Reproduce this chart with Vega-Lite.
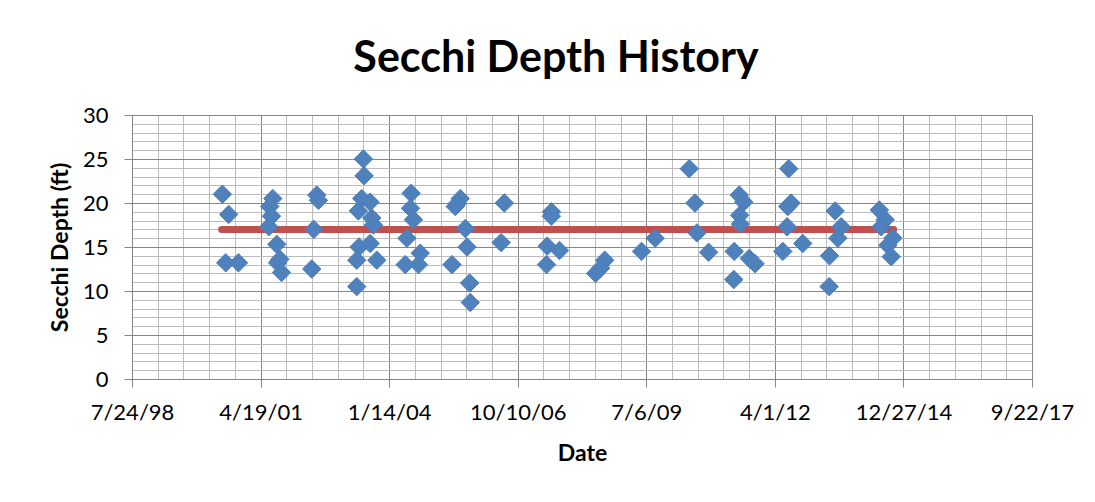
{
  "$schema": "https://vega.github.io/schema/vega-lite/v6.json",
  "width": 900,
  "height": 264,
  "autosize": {"type": "none"},
  "padding": {"left": 132, "top": 115, "right": 63, "bottom": 123},
  "background": "white",
  "config": {"view": {"stroke": null}, "font": "Lato"},
  "title": {
    "text": "Secchi Depth History",
    "font": "Lato",
    "fontSize": 43,
    "fontWeight": "bold",
    "color": "#000000",
    "anchor": "middle",
    "frame": "group",
    "dx": -26,
    "offset": 23
  },
  "datasets": {
    "samples": [
      {"date": "2000-06-26", "depth": 21.0},
      {"date": "2000-08-14", "depth": 18.7},
      {"date": "2000-07-22", "depth": 13.2},
      {"date": "2000-10-29", "depth": 13.2},
      {"date": "2001-07-23", "depth": 20.5},
      {"date": "2001-06-30", "depth": 19.6},
      {"date": "2001-07-13", "depth": 18.5},
      {"date": "2001-06-22", "depth": 17.3},
      {"date": "2001-08-23", "depth": 15.3},
      {"date": "2001-08-29", "depth": 13.2},
      {"date": "2001-09-16", "depth": 13.6},
      {"date": "2001-09-29", "depth": 12.1},
      {"date": "2002-06-30", "depth": 20.9},
      {"date": "2002-07-13", "depth": 20.3},
      {"date": "2002-06-07", "depth": 17.0},
      {"date": "2002-05-22", "depth": 12.5},
      {"date": "2003-06-28", "depth": 25.0},
      {"date": "2003-07-03", "depth": 23.1},
      {"date": "2003-06-15", "depth": 20.5},
      {"date": "2003-08-19", "depth": 20.1},
      {"date": "2003-05-20", "depth": 19.1},
      {"date": "2003-09-01", "depth": 18.3},
      {"date": "2003-09-14", "depth": 17.5},
      {"date": "2003-05-25", "depth": 15.0},
      {"date": "2003-08-19", "depth": 15.4},
      {"date": "2003-05-07", "depth": 13.5},
      {"date": "2003-10-10", "depth": 13.5},
      {"date": "2003-05-07", "depth": 10.5},
      {"date": "2004-07-03", "depth": 21.1},
      {"date": "2004-06-28", "depth": 19.4},
      {"date": "2004-07-21", "depth": 18.1},
      {"date": "2004-05-31", "depth": 16.0},
      {"date": "2004-09-12", "depth": 14.3},
      {"date": "2004-08-29", "depth": 13.0},
      {"date": "2004-05-18", "depth": 13.0},
      {"date": "2005-07-20", "depth": 20.5},
      {"date": "2005-06-11", "depth": 19.6},
      {"date": "2005-06-25", "depth": 19.9},
      {"date": "2005-08-28", "depth": 17.1},
      {"date": "2005-09-11", "depth": 15.0},
      {"date": "2005-05-17", "depth": 13.0},
      {"date": "2005-10-01", "depth": 10.9},
      {"date": "2005-10-06", "depth": 8.7},
      {"date": "2006-06-28", "depth": 20.0},
      {"date": "2006-06-03", "depth": 15.5},
      {"date": "2007-06-30", "depth": 19.0},
      {"date": "2007-06-28", "depth": 18.5},
      {"date": "2007-05-27", "depth": 15.1},
      {"date": "2007-08-31", "depth": 14.6},
      {"date": "2007-05-22", "depth": 13.0},
      {"date": "2008-08-17", "depth": 13.5},
      {"date": "2008-06-07", "depth": 12.0},
      {"date": "2008-07-16", "depth": 12.6},
      {"date": "2009-05-30", "depth": 14.5},
      {"date": "2009-09-13", "depth": 16.0},
      {"date": "2010-06-05", "depth": 23.9},
      {"date": "2010-07-19", "depth": 20.0},
      {"date": "2010-08-04", "depth": 16.6},
      {"date": "2010-11-03", "depth": 14.4},
      {"date": "2011-06-29", "depth": 20.9},
      {"date": "2011-08-03", "depth": 20.1},
      {"date": "2011-07-02", "depth": 18.6},
      {"date": "2011-07-07", "depth": 17.6},
      {"date": "2011-05-21", "depth": 14.5},
      {"date": "2011-09-15", "depth": 13.7},
      {"date": "2011-10-30", "depth": 13.1},
      {"date": "2011-05-18", "depth": 11.3},
      {"date": "2012-07-18", "depth": 23.9},
      {"date": "2012-08-05", "depth": 20.0},
      {"date": "2012-07-11", "depth": 19.6},
      {"date": "2012-07-05", "depth": 17.3},
      {"date": "2012-11-04", "depth": 15.4},
      {"date": "2012-06-02", "depth": 14.5},
      {"date": "2013-07-14", "depth": 19.1},
      {"date": "2013-08-30", "depth": 17.3},
      {"date": "2013-08-04", "depth": 16.0},
      {"date": "2013-05-31", "depth": 14.0},
      {"date": "2013-05-28", "depth": 10.5},
      {"date": "2014-06-23", "depth": 19.2},
      {"date": "2014-08-07", "depth": 18.1},
      {"date": "2014-07-07", "depth": 17.3},
      {"date": "2014-10-06", "depth": 16.0},
      {"date": "2014-08-28", "depth": 15.2},
      {"date": "2014-09-23", "depth": 13.9}
    ],
    "mean": [
      {"date": "2000-06-20", "depth": 17.0},
      {"date": "2014-10-12", "depth": 17.0}
    ]
  },
  "resolve": {"axis": {"x": "independent", "y": "independent"}},
  "layer": [
    {
      "data": {"name": "samples"},
      "mark": {"type": "point", "opacity": 0},
      "encoding": {
        "x": {
          "field": "date", "type": "temporal",
          "scale": {"type": "utc", "domain": [901238400000, 1506038400000], "nice": false},
          "axis": {
            "orient": "top", "grid": true, "gridColor": "#BCBCBC", "gridWidth": 1,
            "domain": false, "ticks": false, "labels": false, "title": null,
            "values": [901238400000, 918518400000, 935798400000, 953078400000, 970358400000, 987638400000, 1004918400000, 1022198400000, 1039478400000, 1056758400000, 1074038400000, 1091318400000, 1108598400000, 1125878400000, 1143158400000, 1160438400000, 1177718400000, 1194998400000, 1212278400000, 1229558400000, 1246838400000, 1264118400000, 1281398400000, 1298678400000, 1315958400000, 1333238400000, 1350518400000, 1367798400000, 1385078400000, 1402358400000, 1419638400000, 1436918400000, 1454198400000, 1471478400000, 1488758400000, 1506038400000]
          }
        },
        "y": {
          "field": "depth", "type": "quantitative",
          "scale": {"domain": [0, 30], "nice": false, "zero": true},
          "axis": {
            "orient": "right", "grid": true, "gridColor": "#BCBCBC", "gridWidth": 1,
            "domain": false, "ticks": false, "labels": false, "title": null,
            "values": [0,1,2,3,4,5,6,7,8,9,10,11,12,13,14,15,16,17,18,19,20,21,22,23,24,25,26,27,28,29,30]
          }
        }
      }
    },
    {
      "data": {"name": "mean"},
      "mark": {"type": "line", "color": "#C0504D", "strokeWidth": 7, "strokeCap": "round"},
      "encoding": {
        "x": {"field": "date", "type": "temporal", "axis": null},
        "y": {"field": "depth", "type": "quantitative", "axis": null}
      }
    },
    {
      "data": {"name": "samples"},
      "mark": {"type": "point", "shape": "diamond", "filled": true, "size": 340, "fill": "#4F81BD", "stroke": "#4A7EBB", "strokeWidth": 1, "opacity": 1},
      "encoding": {
        "x": {
          "field": "date", "type": "temporal",
          "axis": {
            "orient": "bottom", "title": "Date",
            "values": [901238400000, 987638400000, 1074038400000, 1160438400000, 1246838400000, 1333238400000, 1419638400000, 1506038400000],
            "labelExpr": "utcFormat(datum.value, '%-m/%-d/%y')",
            "grid": true, "gridColor": "#868686", "gridWidth": 1,
            "domain": true, "domainColor": "#868686", "domainWidth": 1,
            "ticks": true, "tickColor": "#868686", "tickSize": 8, "tickWidth": 1,
            "labelFont": "Lato", "labelFontSize": 22, "labelColor": "#000000", "labelPadding": 15,
            "labelAlign": "center", "labelOverlap": false, "labelFlush": false,
            "titleFont": "Lato", "titleFontSize": 23, "titleFontWeight": "bold", "titleColor": "#000000", "titlePadding": 19
          }
        },
        "y": {
          "field": "depth", "type": "quantitative",
          "axis": {
            "orient": "left", "title": "Secchi Depth (ft)",
            "values": [0, 5, 10, 15, 20, 25, 30],
            "grid": true, "gridColor": "#868686", "gridWidth": 1,
            "domain": true, "domainColor": "#868686", "domainWidth": 1,
            "ticks": true, "tickColor": "#868686", "tickSize": 8, "tickWidth": 1,
            "labelFont": "Lato", "labelFontSize": 22, "labelColor": "#000000", "labelPadding": 16,
            "labelOverlap": false, "labelFlush": false,
            "titleFont": "Lato", "titleFontSize": 23, "titleFontWeight": "bold", "titleColor": "#000000", "titlePadding": 10
          }
        }
      }
    }
  ]
}
